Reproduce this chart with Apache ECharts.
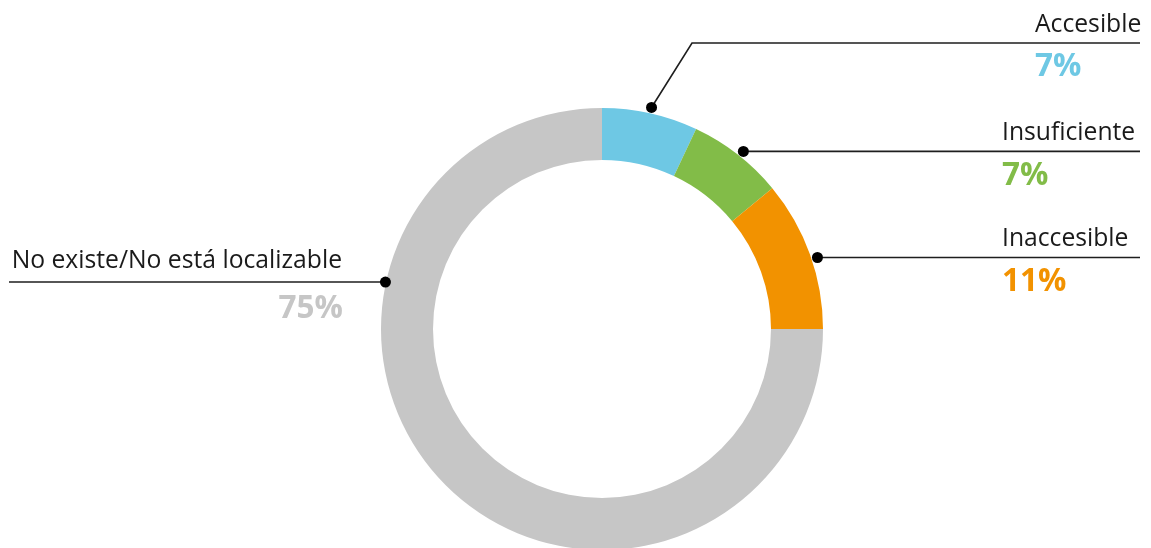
<!DOCTYPE html>
<html>
<head>
<meta charset="utf-8">
<style>
  html, body { margin: 0; padding: 0; background: #ffffff; }
  #chart { width: 1151px; height: 548px; }
</style>
<script src="https://cdn.jsdelivr.net/npm/echarts@6/dist/echarts.min.js"></script>
</head>
<body>
<div id="chart"></div>
<script>
// ---- data ----
const categories = ['Accesible', 'Insuficiente', 'Inaccesible', 'No existe/No está localizable'];
const values = [7, 7, 11, 75];
const colors = ['#6EC8E4', '#82BC48', '#F29200', '#C6C6C6'];

// ---- layout (positions / styles only) ----
const CENTER = [602, 329];
const R_OUT = 221;
const R_IN = 169;
const dotRadius = [227, 227, 227, 221.6];               // radial distance of each leader dot
const dotAnchorOverride = [null, 10.7, 19.9, 78.4];      // angle (in % of total) where a leader starts, if not the slice middle
const elbow = [[692, 43], null, null, null];
const lineEndX = [1140, 1140, 1140, 9];
const textX = [1035, 1002, 1002, 342];
const textAlign = ['left', 'left', 'left', 'right'];
const nameDy = [-18.5, -18.5, -18.5, -21.5];
const pctDy = [24.5, 24.5, 24.5, 27];

const total = values.reduce((a, b) => a + b, 0);
let cum = 0;
const anchors = values.map((v, i) => {
  const mid = cum + v / 2;
  cum += v;
  const ang = dotAnchorOverride[i] != null ? dotAnchorOverride[i] : mid;
  return [dotRadius[i], ang];
});

const chart = echarts.init(document.getElementById('chart'), null, { renderer: 'canvas' });

chart.setOption({
  animation: false,
  backgroundColor: '#ffffff',
  polar: { center: CENTER, radius: R_OUT },
  angleAxis: { type: 'value', min: 0, max: total, startAngle: 90, clockwise: true, show: false },
  radiusAxis: { type: 'value', min: 0, max: R_OUT, show: false },
  series: [
    {
      type: 'pie',
      z: 1,
      center: CENTER,
      radius: [R_IN, R_OUT],
      startAngle: 90,
      clockwise: true,
      silent: true,
      label: { show: false },
      labelLine: { show: false },
      itemStyle: { borderWidth: 0 },
      data: categories.map((c, i) => ({ name: c, value: values[i], itemStyle: { color: colors[i] } }))
    },
    {
      type: 'custom',
      z: 10,
      coordinateSystem: 'polar',
      silent: true,
      clip: false,
      data: anchors,
      renderItem: function (params, api) {
        const i = params.dataIndex;
        const p = api.coord([api.value(0), api.value(1)]);
        let pts, lineY;
        if (elbow[i]) {
          lineY = elbow[i][1];
          pts = [p, elbow[i], [lineEndX[i], lineY]];
        } else {
          lineY = p[1];
          pts = [p, [lineEndX[i], lineY]];
        }
        return {
          type: 'group',
          children: [
            {
              type: 'polyline',
              shape: { points: pts },
              style: { stroke: '#1e1e1e', lineWidth: 1.6, fill: null }
            },
            {
              type: 'circle',
              shape: { cx: p[0], cy: p[1], r: 5.5 },
              style: { fill: '#000000' }
            },
            {
              type: 'text',
              style: {
                x: textX[i], y: lineY + nameDy[i],
                text: categories[i],
                fill: '#1a1a1a',
                fontSize: 24.7,
                fontFamily: '"Open Sans", sans-serif',
                fontWeight: 'normal',
                align: textAlign[i],
                verticalAlign: 'middle'
              }
            },
            {
              type: 'text',
              style: {
                x: textX[i] + (textAlign[i] === 'left' ? 0 : 1), y: lineY + pctDy[i],
                text: Math.round(values[i] / total * 100) + '%',
                fill: colors[i],
                fontSize: 31.5,
                fontFamily: '"Open Sans", sans-serif',
                fontWeight: 'bold',
                align: textAlign[i],
                verticalAlign: 'middle'
              }
            }
          ]
        };
      }
    }
  ]
});
</script>
</body>
</html>
